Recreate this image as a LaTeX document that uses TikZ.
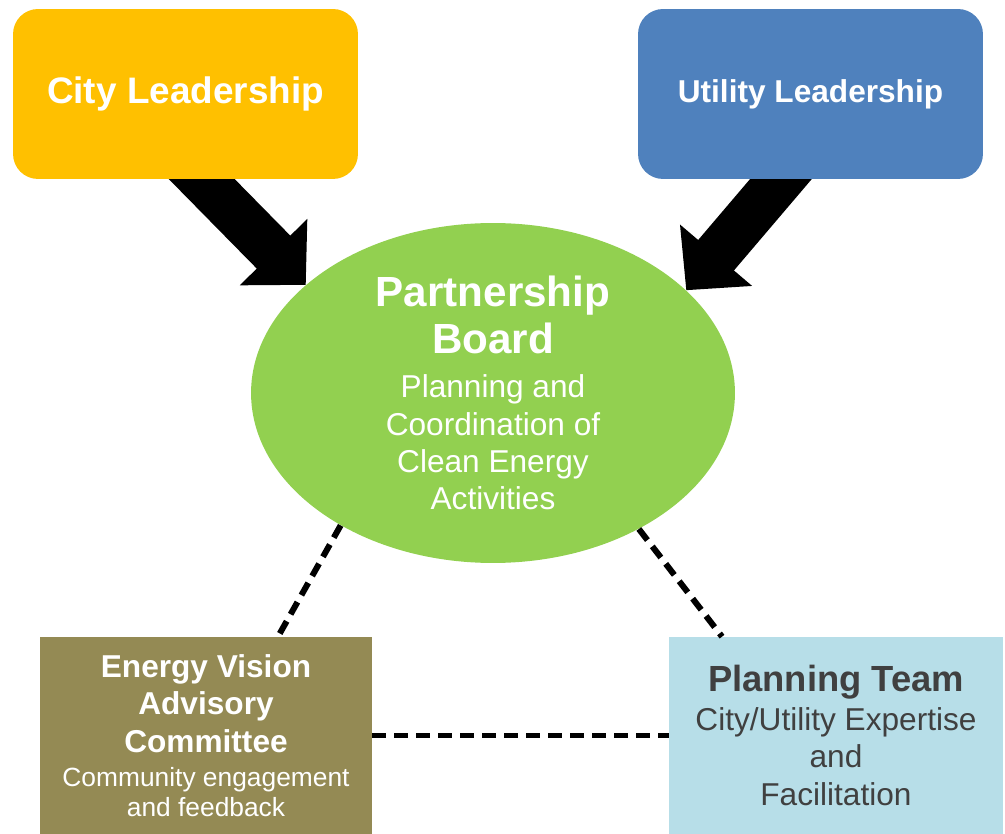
\documentclass[tikz,border=0pt]{standalone}
\usepackage{fontspec}
\setmainfont{Liberation Sans}
\usepackage{tikz}
\usetikzlibrary{positioning}
\usetikzlibrary{arrows.meta}
\usetikzlibrary{shapes,backgrounds}
\definecolor{cityyellow}{HTML}{FFC000}
\definecolor{utilblue}{HTML}{4F81BD}
\definecolor{boardgreen}{HTML}{92D050}
\definecolor{committeeolive}{HTML}{948A54}
\definecolor{teamblue}{HTML}{B7DEE8}
\definecolor{teamtext}{HTML}{404040}
\newcommand{\fs}[2]{\fontsize{#1}{#2}\selectfont}
\tikzset{lead box/.style={rectangle,rounded corners=0.5cm,minimum width=6.9cm,minimum height=3.4cm,text=white,font=\bfseries},
  board node/.style={ellipse,fill=boardgreen,text=white,align=center,minimum width=9.68cm,minimum height=6.8cm,inner sep=0pt,inner ysep=-10pt},
  group box/.style={rectangle,minimum height=3.94cm,align=center,inner sep=0pt},
  big arrow/.style={line width=0.94cm,-{Triangle[length=0.92cm,width=1.84cm]}},
  link/.style={line width=0.12cm,dash pattern=on 0.28cm off 0.16cm},}

\begin{document}
\begin{tikzpicture}[x=0.02cm, y=-0.02cm]
    \useasboundingbox (0,0) rectangle (1005,834);
    \node[lead box, fill=cityyellow] (city) at (185.5,94) {\fs{21}{24}City Leadership};
    \node[lead box, fill=utilblue] (utility) at (810.5,94) {\fs{18}{21}Utility Leadership};
    \node[board node, font={\fs{18}{21}\lineskiplimit=-50pt}] (board) at (493,393)
        {\fs{24}{21}\bfseries Partnership\\[5.6pt] \fs{24}{21}\bfseries Board\\[3.9pt]
        Planning and\\[1.1pt] Coordination of\\ Clean Energy\\ Activities};
    \node[group box, fill=committeeolive, text=white, minimum width=6.64cm, font={\fs{18}{21.5}\lineskiplimit=-50pt}] (evac) at (206,735.5)
        {\bfseries Energy Vision\\ \bfseries Advisory\\ \bfseries Committee\\[-2.2pt]
        \fs{15}{21.5}Community engagement\\[-4.5pt] \fs{15}{21.5}and feedback};
    \node[group box, fill=teamblue, text=teamtext, minimum width=6.68cm, font={\fs{18}{21.5}\lineskiplimit=-50pt}] (team) at (836,735.5)
        {\fs{20.7}{21.5}\bfseries Planning Team\\[0.5pt]
        City/Utility Expertise\\ and\\ Facilitation};
    \coordinate (cstart) at (181,158);
    \coordinate (ustart) at (798,159);

    \begin{pgfonlayer}{background}
    \draw[big arrow] (cstart) -- (board.150);
    \draw[big arrow] (ustart) -- (board.28);
    \end{pgfonlayer}

    \draw[link] (board.221) -- ([xshift=1.44cm]evac.north);
    \draw[link] (board.317) -- ([xshift=-2.28cm]team.north);
    \draw[link] (evac.east) -- (team.west);
\end{tikzpicture}
\end{document}
